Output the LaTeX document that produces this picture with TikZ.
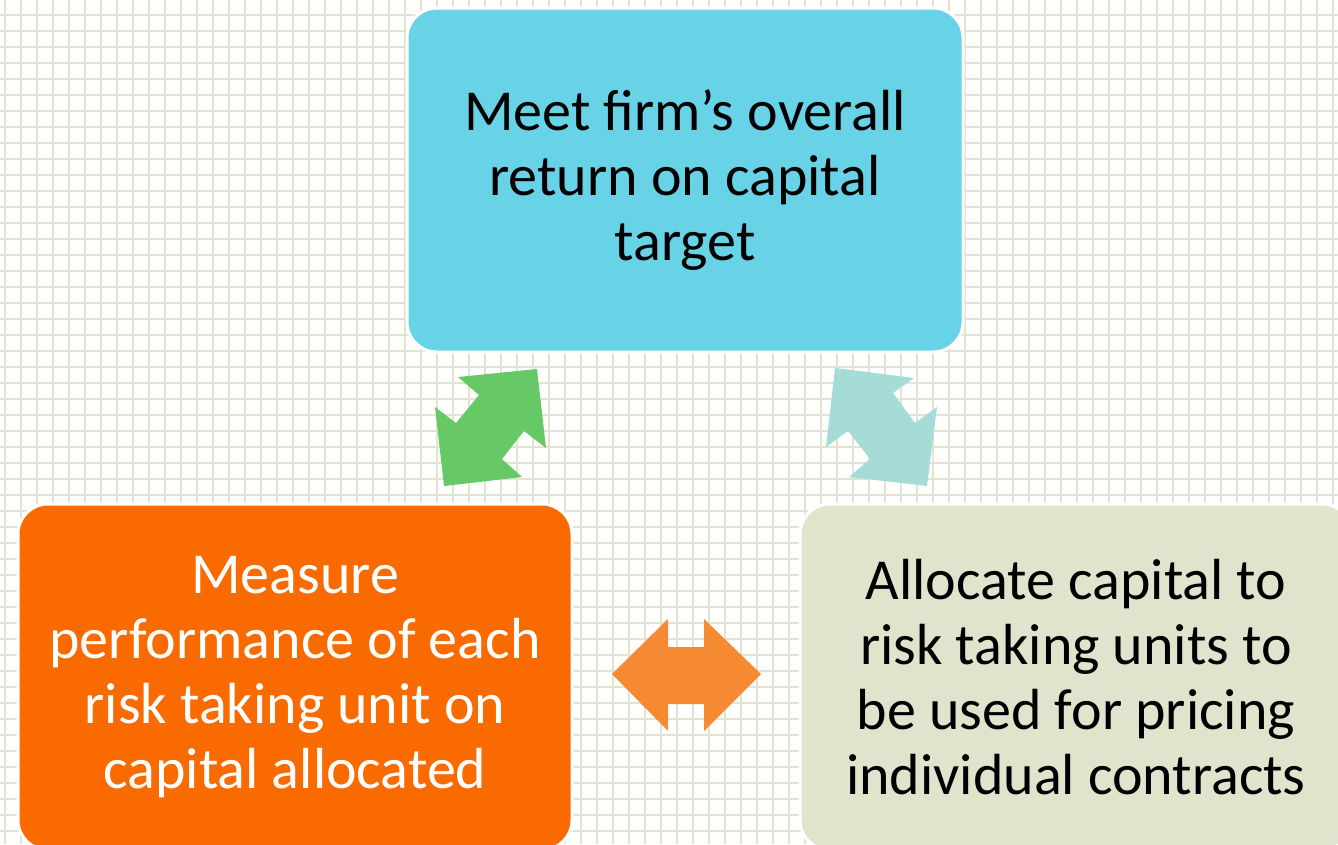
\documentclass[tikz,border=0pt]{standalone}
\usepackage{fontspec}
\setmainfont{Carlito}
\usepackage{tikz}
\usetikzlibrary{positioning}
\definecolor{gridLine}{HTML}{E2E5CE}
\definecolor{goalCyan}{HTML}{68D2E7}
\definecolor{measureOrange}{HTML}{F96A00}
\definecolor{allocSage}{HTML}{E1E4CC}
\definecolor{arrowGreen}{HTML}{66C966}
\definecolor{arrowTeal}{HTML}{A6DCD8}
\definecolor{arrowOrange}{HTML}{F58A33}

\tikzset{
  stage/.style={draw=white,line width=3pt,rounded corners=30pt,align=center,
    inner sep=0pt,font=\fontsize{58}{65}\selectfont},
}

\begin{document}
\begin{tikzpicture}[x=1pt,y=-1pt]
    \useasboundingbox (0,0) rectangle (1338,844);
    \clip (0,0) rectangle (1338,844);
    % graph paper
    \fill[white] (0,0) rectangle (1338,844);
    \foreach \gx in {5,21,...,1338} \draw[gridLine,line width=2pt] (\gx,0)--(\gx,844);
    \foreach \gy in {15,31,...,844} \draw[gridLine,line width=2pt] (0,\gy)--(1338,\gy);
    % the three stages
    \node[stage,fill=goalCyan,minimum width=556pt,minimum height=344pt] (goal) at (685,180)
      {Meet firm’s overall\\return on capital\\target};
    \node[stage,fill=measureOrange,text=white,minimum width=554pt,minimum height=346pt] (measure) at (295,677)
      {Measure\\performance of each\\risk taking unit on\\capital allocated};
    \node[stage,fill=allocSage,minimum width=552pt,minimum height=346pt] (alloc) at (1076,677)
      {Allocate capital to\\risk taking units to\\be used for pricing\\individual contracts};
    % block arrows between them
    \fill[arrowGreen] (458,377)--(537,369)--(546,448)--(524,431)--(502,459)--(522,477)
      --(444,486)--(435,407)--(456,423)--(479,395)--cycle;
    \fill[arrowTeal] (835,368)--(914,378)--(893,393)--(915,423)--(937,407)--(927,486)
      --(849,477)--(870,459)--(848,431)--(826,447)--cycle;
    \fill[arrowOrange] (612,674)--(668,619)--(668,647)--(704,647)--(704,619)--(761,674)
      --(704,731)--(704,704)--(668,704)--(668,731)--cycle;
  \end{tikzpicture}
\end{document}
